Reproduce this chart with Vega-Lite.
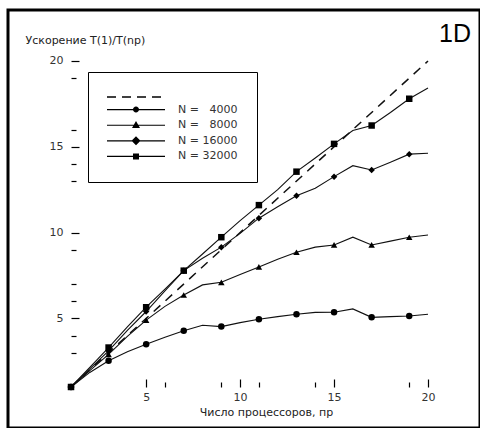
{
  "$schema": "https://vega.github.io/schema/vega-lite/v6.json",
  "width": 472,
  "height": 418,
  "autosize": {"type": "none"},
  "padding": {"left": 8, "top": 10, "right": 0, "bottom": 0},
  "background": "white",
  "config": {"view": {"stroke": "black", "strokeWidth": 3}, "font": "DejaVu Sans"},
  "title": {"text": "1D", "anchor": "end", "frame": "group", "orient": "top", "offset": -32, "dy": 25, "dx": -9, "font": "Liberation Sans", "fontSize": 25, "fontWeight": "normal", "baseline": "alphabetic", "color": "black"},
  "datasets": {
    "speedup": [
      {"np": 1, "speedup": 1, "series": "ideal"},
      {"np": 20, "speedup": 20, "series": "ideal"},
      {"np": 1, "speedup": 1, "series": "N = \u20074000"},
      {"np": 2, "speedup": 1.85, "series": "N = \u20074000"},
      {"np": 3, "speedup": 2.53, "series": "N = \u20074000"},
      {"np": 4, "speedup": 3.05, "series": "N = \u20074000"},
      {"np": 5, "speedup": 3.49, "series": "N = \u20074000"},
      {"np": 6, "speedup": 3.9, "series": "N = \u20074000"},
      {"np": 7, "speedup": 4.28, "series": "N = \u20074000"},
      {"np": 8, "speedup": 4.6, "series": "N = \u20074000"},
      {"np": 9, "speedup": 4.52, "series": "N = \u20074000"},
      {"np": 10, "speedup": 4.75, "series": "N = \u20074000"},
      {"np": 11, "speedup": 4.95, "series": "N = \u20074000"},
      {"np": 12, "speedup": 5.1, "series": "N = \u20074000"},
      {"np": 13, "speedup": 5.24, "series": "N = \u20074000"},
      {"np": 14, "speedup": 5.35, "series": "N = \u20074000"},
      {"np": 15, "speedup": 5.36, "series": "N = \u20074000"},
      {"np": 16, "speedup": 5.55, "series": "N = \u20074000"},
      {"np": 17, "speedup": 5.06, "series": "N = \u20074000"},
      {"np": 18, "speedup": 5.1, "series": "N = \u20074000"},
      {"np": 19, "speedup": 5.14, "series": "N = \u20074000"},
      {"np": 20, "speedup": 5.24, "series": "N = \u20074000"},
      {"np": 1, "speedup": 1, "series": "N = \u20078000"},
      {"np": 2, "speedup": 1.95, "series": "N = \u20078000"},
      {"np": 3, "speedup": 2.9, "series": "N = \u20078000"},
      {"np": 4, "speedup": 3.95, "series": "N = \u20078000"},
      {"np": 5, "speedup": 4.9, "series": "N = \u20078000"},
      {"np": 6, "speedup": 5.7, "series": "N = \u20078000"},
      {"np": 7, "speedup": 6.36, "series": "N = \u20078000"},
      {"np": 8, "speedup": 6.95, "series": "N = \u20078000"},
      {"np": 9, "speedup": 7.1, "series": "N = \u20078000"},
      {"np": 10, "speedup": 7.55, "series": "N = \u20078000"},
      {"np": 11, "speedup": 8.0, "series": "N = \u20078000"},
      {"np": 12, "speedup": 8.45, "series": "N = \u20078000"},
      {"np": 13, "speedup": 8.85, "series": "N = \u20078000"},
      {"np": 14, "speedup": 9.15, "series": "N = \u20078000"},
      {"np": 15, "speedup": 9.28, "series": "N = \u20078000"},
      {"np": 16, "speedup": 9.73, "series": "N = \u20078000"},
      {"np": 17, "speedup": 9.28, "series": "N = \u20078000"},
      {"np": 18, "speedup": 9.5, "series": "N = \u20078000"},
      {"np": 19, "speedup": 9.73, "series": "N = \u20078000"},
      {"np": 20, "speedup": 9.86, "series": "N = \u20078000"},
      {"np": 1, "speedup": 1, "series": "N = 16000"},
      {"np": 2, "speedup": 2.05, "series": "N = 16000"},
      {"np": 3, "speedup": 3.1, "series": "N = 16000"},
      {"np": 4, "speedup": 4.3, "series": "N = 16000"},
      {"np": 5, "speedup": 5.4, "series": "N = 16000"},
      {"np": 6, "speedup": 6.6, "series": "N = 16000"},
      {"np": 7, "speedup": 7.78, "series": "N = 16000"},
      {"np": 8, "speedup": 8.5, "series": "N = 16000"},
      {"np": 9, "speedup": 9.15, "series": "N = 16000"},
      {"np": 10, "speedup": 9.95, "series": "N = 16000"},
      {"np": 11, "speedup": 10.84, "series": "N = 16000"},
      {"np": 12, "speedup": 11.5, "series": "N = 16000"},
      {"np": 13, "speedup": 12.15, "series": "N = 16000"},
      {"np": 14, "speedup": 12.58, "series": "N = 16000"},
      {"np": 15, "speedup": 13.26, "series": "N = 16000"},
      {"np": 16, "speedup": 13.9, "series": "N = 16000"},
      {"np": 17, "speedup": 13.65, "series": "N = 16000"},
      {"np": 18, "speedup": 14.1, "series": "N = 16000"},
      {"np": 19, "speedup": 14.57, "series": "N = 16000"},
      {"np": 20, "speedup": 14.62, "series": "N = 16000"},
      {"np": 1, "speedup": 1, "series": "N = 32000"},
      {"np": 2, "speedup": 2.15, "series": "N = 32000"},
      {"np": 3, "speedup": 3.3, "series": "N = 32000"},
      {"np": 4, "speedup": 4.5, "series": "N = 32000"},
      {"np": 5, "speedup": 5.65, "series": "N = 32000"},
      {"np": 6, "speedup": 6.7, "series": "N = 32000"},
      {"np": 7, "speedup": 7.78, "series": "N = 32000"},
      {"np": 8, "speedup": 8.75, "series": "N = 32000"},
      {"np": 9, "speedup": 9.73, "series": "N = 32000"},
      {"np": 10, "speedup": 10.7, "series": "N = 32000"},
      {"np": 11, "speedup": 11.6, "series": "N = 32000"},
      {"np": 12, "speedup": 12.5, "series": "N = 32000"},
      {"np": 13, "speedup": 13.55, "series": "N = 32000"},
      {"np": 14, "speedup": 14.35, "series": "N = 32000"},
      {"np": 15, "speedup": 15.17, "series": "N = 32000"},
      {"np": 16, "speedup": 15.95, "series": "N = 32000"},
      {"np": 17, "speedup": 16.24, "series": "N = 32000"},
      {"np": 18, "speedup": 17.0, "series": "N = 32000"},
      {"np": 19, "speedup": 17.8, "series": "N = 32000"},
      {"np": 20, "speedup": 18.42, "series": "N = 32000"}
    ]
  },
  "data": {"name": "speedup"},
  "encoding": {
    "x": {
      "field": "np", "type": "quantitative",
      "scale": {"domain": [-2.353, 22.767], "nice": false, "zero": false},
      "axis": {
        "title": "Число процессоров, пр",
        "values": [5, 6, 9, 10, 11, 14, 15, 19, 20],
        "domain": false, "grid": false, "offset": -41,
        "tickSize": {"condition": {"test": "datum.value % 5 == 0", "value": -8}, "value": -5},
        "tickColor": "black", "tickWidth": 1.2,
        "labelExpr": "datum.value % 5 == 0 ? datum.label : ''",
        "labelOverlap": false, "labelFlush": false,
        "labelFont": "DejaVu Sans", "labelFontSize": 11, "labelColor": "#333", "labelPadding": 12,
        "titleFont": "DejaVu Sans", "titleFontSize": 11, "titleFontWeight": "normal", "titleColor": "#222",
        "titleX": 258, "titleY": 28, "titleBaseline": "alphabetic", "titleAlign": "center"
      }
    },
    "y": {
      "field": "speedup", "type": "quantitative",
      "scale": {"domain": [-1.39, 22.972], "nice": false, "zero": false},
      "axis": {
        "title": "Ускорение T(1)/T(np)",
        "values": [3, 4, 5, 6, 7, 9, 10, 13, 14, 15, 16, 19, 20],
        "domain": false, "grid": false, "offset": -63,
        "tickSize": {"condition": {"test": "datum.value % 5 == 0", "value": -8}, "value": -5},
        "tickColor": "black", "tickWidth": 1.2,
        "labelExpr": "datum.value % 5 == 0 ? datum.label : ''",
        "labelOverlap": false, "labelFlush": false,
        "labelFont": "DejaVu Sans", "labelFontSize": 11, "labelColor": "#333", "labelPadding": 16,
        "titleFont": "DejaVu Sans", "titleFontSize": 11, "titleFontWeight": "normal", "titleColor": "#222",
        "titleAngle": 0, "titleAlign": "left", "titleBaseline": "alphabetic", "titleX": -46, "titleY": 33
      }
    }
  },
  "resolve": {"scale": {"shape": "independent"}, "legend": {"shape": "independent"}},
  "layer": [
    {
      "data": {"values": [{}]},
      "mark": {"type": "rule", "color": "black", "strokeWidth": 1.5},
      "encoding": {"x": {"datum": 1}, "y": {"datum": 1}, "y2": {"datum": 20}}
    },
    {
      "data": {"values": [{}]},
      "mark": {"type": "rule", "color": "black", "strokeWidth": 1.5},
      "encoding": {"y": {"datum": 1}, "x": {"datum": 1}, "x2": {"datum": 20}}
    },
    {
      "transform": [{"filter": "datum.series == 'ideal'"}],
      "mark": {"type": "line", "color": "#111", "strokeWidth": 1.5, "strokeDash": [9, 7]},
      "encoding": {}
    },
    {
      "transform": [{"filter": "datum.series != 'ideal'"}],
      "mark": {"type": "line", "color": "#111", "strokeWidth": 1.1},
      "encoding": {"detail": {"field": "series", "type": "nominal"}}
    },
    {
      "transform": [{"filter": "datum.series != 'ideal' && datum.np % 2 == 1"}],
      "mark": {"type": "point", "filled": true, "opacity": 1, "color": "black", "size": 42},
      "encoding": {
        "shape": {
          "field": "series", "type": "nominal",
          "scale": {"domain": ["ideal", "N = \u20074000", "N = \u20078000", "N = 16000", "N = 32000"], "range": ["circle", "circle", "triangle-up", "diamond", "square"]},
          "legend": null
        }
      }
    },
    {
      "transform": [{"filter": "datum.np < 0"}],
      "mark": {"type": "point", "filled": true, "opacity": 1, "fill": "black", "size": 100},
      "encoding": {
        "shape": {
          "field": "series", "type": "nominal",
          "scale": {
            "domain": ["ideal", "N = \u20074000", "N = \u20078000", "N = 16000", "N = 32000"],
            "range": [
              "M-1.2,-0.16H0.6V0.16H-1.2ZM1.8,-0.16H3.6V0.16H1.8ZM4.8,-0.16H6.6V0.16H4.8ZM7.8,-0.16H9.6V0.16H7.8Z",
              "M-1.2,-0.11H10.4V0.11H-1.2ZM5.2,0A0.6,0.6 0 1,1 4,0A0.6,0.6 0 1,1 5.2,0Z",
              "M-1.2,-0.11H10.4V0.11H-1.2ZM4.6,-0.85L5.4,0.55H3.8Z",
              "M-1.2,-0.13H10.4V0.13H-1.2ZM4.6,-0.9L5.5,0L4.6,0.9L3.7,0Z",
              "M-1.2,-0.11H10.4V0.11H-1.2ZM4,-0.6H5.2V0.6H4Z"
            ]
          },
          "legend": {
            "orient": "none", "legendX": 80, "legendY": 62, "title": null,
            "padding": 19, "strokeColor": "black",
            "symbolSize": 100, "symbolFillColor": "black", "symbolOpacity": 1,
            "labelOffset": 59, "rowPadding": 1.6,
            "labelFont": "DejaVu Sans", "labelFontSize": 11, "labelColor": "#333",
            "labelExpr": "datum.value == 'ideal' ? '' : datum.label"
          }
        }
      }
    }
  ]
}
